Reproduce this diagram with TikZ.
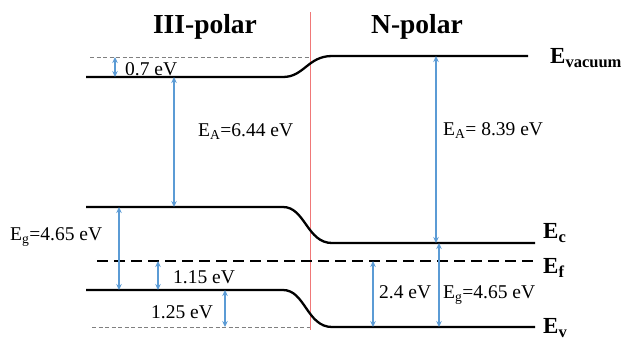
\documentclass[tikz,border=0pt]{standalone}
\usepackage{fontspec}
\setmainfont{Liberation Serif}
\usetikzlibrary{arrows.meta}
\tikzset{>={Stealth[length=6pt,width=5.5pt]}}
\definecolor{gapblue}{RGB}{91,155,213}
\definecolor{facered}{RGB}{240,120,120}
\newcommand{\bandsub}[1]{\raisebox{-4pt}{\fontsize{16.5}{16.5}\selectfont #1}}

\begin{document}
\begin{tikzpicture}[x=1pt, y=-1pt,
    level/.style={line width=2.3pt},
    fermi/.style={line width=2.6pt, dash pattern=on 11pt off 6pt},
    guide/.style={gray, line width=0.7pt, dash pattern=on 4pt off 2.5pt},
    gap/.style={<->, gapblue, line width=1.5pt},
    lbl/.style={font=\fontsize{19.5}{20}\selectfont, inner sep=0pt, anchor=base west},
    band/.style={font=\bfseries\fontsize{23}{23}\selectfont, inner sep=0pt, anchor=base west},
    title/.style={font=\bfseries\fontsize{27.5}{28}\selectfont, inner sep=0pt, anchor=base}
]
\useasboundingbox (0,0) rectangle (624,341);

% interface
\coordinate (ifT) at (310,12);
\coordinate (ifB) at (310,330);
\draw[facered, line width=0.9pt] (ifT) -- (ifB);

\node[title] (iii) at (205,33) {III-polar};
\node[title] (npol) at (417,33) {N-polar};

% levels
\coordinate (vacL) at (86,77);   \coordinate (vacR) at (528,56);
\coordinate (ecL) at (86,207);   \coordinate (ecR) at (535,243);
\coordinate (evL) at (86,290);   \coordinate (evR) at (535,327);
\coordinate (efL) at (97,261);   \coordinate (efR) at (535,261);

\draw[guide] (90,57) -- (310,57);
\draw[guide] (92,327) -- (310,327);

\draw[level] (vacL) -- (283,77) .. controls (304,77) and (308,56) .. (332,56) -- (vacR);
\draw[level] (ecL) -- (283,207) .. controls (305,207) and (307,243) .. (332,243) -- (ecR);
\draw[level] (evL) -- (283,290) .. controls (305,290) and (307,327) .. (332,327) -- (evR);
\draw[fermi] (efL) -- (efR);

\node[band] (evac) at (550,63) {E\bandsub{vacuum}};
\node[band] (ec) at (543,238) {E\bandsub{c}};
\node[band] (ef) at (543,273) {E\bandsub{f}};
\node[band] (ev) at (543,333) {E\bandsub{v}};

% arrows, III-polar
\coordinate (a1t) at (115,57);  \coordinate (a1b) at (115,77);
\coordinate (a2t) at (174,77);  \coordinate (a2b) at (174,207);
\coordinate (a3t) at (119,207); \coordinate (a3b) at (119,290);
\coordinate (a4t) at (158,261); \coordinate (a4b) at (158,290);
\coordinate (a5t) at (225,290); \coordinate (a5b) at (225,327);
\draw[gap] (a1t) -- (a1b);
\draw[gap] (a2t) -- (a2b);
\draw[gap] (a3t) -- (a3b);
\draw[gap] (a4t) -- (a4b);
\draw[gap] (a5t) -- (a5b);

\node[lbl] (l1) at (125,75) {0.7 eV};
\node[lbl] (l2) at (198,136) {E\textsubscript{A}=6.44 eV};
\node[lbl] (l3) at (10,240) {E\textsubscript{g}=4.65 eV};
\node[lbl] (l4) at (173,283) {1.15 eV};
\node[lbl] (l5) at (151,318) {1.25 eV};

% arrows, N-polar
\coordinate (b1t) at (436,56);  \coordinate (b1b) at (436,243);
\coordinate (b2t) at (373,261); \coordinate (b2b) at (373,327);
\coordinate (b3t) at (439,243); \coordinate (b3b) at (439,327);
\draw[gap] (b1t) -- (b1b);
\draw[gap] (b2t) -- (b2b);
\draw[gap] (b3t) -- (b3b);

\node[lbl] (m1) at (443,135) {E\textsubscript{A}= 8.39 eV};
\node[lbl] (m2) at (379,298) {2.4 eV};
\node[lbl] (m3) at (443,298) {E\textsubscript{g}=4.65 eV};
\end{tikzpicture}
\end{document}
